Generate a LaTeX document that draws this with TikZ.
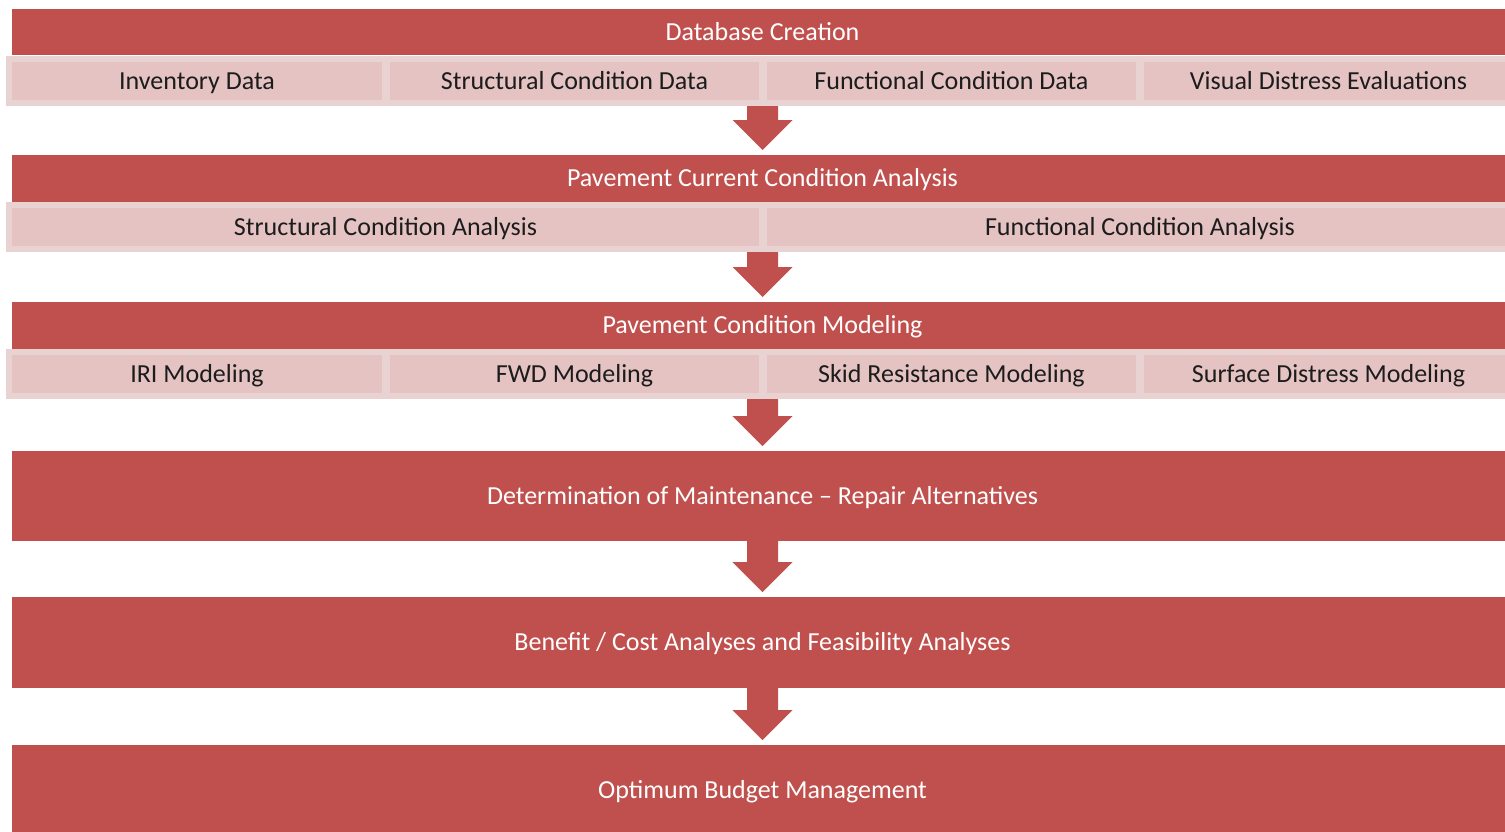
\documentclass[tikz,border=0pt]{standalone}
\usepackage{fontspec}
\setmainfont{Carlito}
\usetikzlibrary{calc}
\definecolor{barred}{HTML}{C0504D}
\definecolor{bandpink}{HTML}{E9D3D2}
\definecolor{cellpink}{HTML}{E4C3C2}
\definecolor{celltext}{HTML}{1C1C1C}
% downward block arrow from the bottom of #1 to just above the top of #2
\newcommand\flowdown[2]{%
  \fill[flow] let \p1=(#1.south -| axis), \p2=(#2.north -| axis) in
    (\x1-15.5pt,\y1) -- (\x1+15.5pt,\y1) -- (\x1+15.5pt,\y2+35pt)
    -- (\x1+30pt,\y2+35pt) -- (\x1,\y2+5pt) -- (\x1-30pt,\y2+35pt)
    -- (\x1-15.5pt,\y2+35pt) -- cycle;}
\begin{document}
\begin{tikzpicture}[x=1pt,y=-1pt,
  lbl/.style={font=\fontsize{26}{30}\selectfont, text height=16.4pt, text depth=0pt},
  bar/.style={lbl, fill=barred, text=white, inner sep=0pt, outer sep=0pt,
    anchor=north west, minimum width=1501pt},
  band/.style={fill=bandpink, inner sep=0pt, outer sep=0pt, anchor=north west,
    minimum width=1507pt, minimum height=50pt},
  cell/.style={lbl, fill=cellpink, text=celltext, inner sep=0pt, outer sep=0pt,
    anchor=north west, minimum height=38pt},
  flow/.style={fill=barred}]
\useasboundingbox (0,0) rectangle (1505,831);
\clip (0,0) rectangle (1505,831);
\fill[white] (0,0) rectangle (1505,831);
\coordinate (axis) at (762.5,0);

% Database creation
\node[bar, minimum height=46pt] (db) at (12,9) {Database Creation};
\node[band] (band1) at (6,56) {};
\node[cell, minimum width=370pt] (inv) at (12,62) {Inventory Data};
\node[cell, minimum width=369pt] (scd) at (390,62) {Structural Condition Data};
\node[cell, minimum width=369pt] (fcd) at (767,62) {Functional Condition Data};
\node[cell, minimum width=369pt] (vde) at (1144,62) {Visual Distress Evaluations};

% Current condition analysis
\node[bar, minimum height=47pt] (pcca) at (12,155) {Pavement Current Condition Analysis};
\node[band] (band2) at (6,202) {};
\node[cell, minimum width=747pt] (sca) at (12,208) {Structural Condition Analysis};
\node[cell, minimum width=746pt] (fca) at (767,208) {Functional Condition Analysis};

% Condition modeling
\node[bar, minimum height=47pt] (pcm) at (12,302) {Pavement Condition Modeling};
\node[band] (band3) at (6,349) {};
\node[cell, minimum width=370pt] (iri) at (12,355) {IRI Modeling};
\node[cell, minimum width=369pt] (fwd) at (390,355) {FWD Modeling};
\node[cell, minimum width=369pt] (skid) at (767,355) {Skid Resistance Modeling};
\node[cell, minimum width=369pt] (sdm) at (1144,355) {Surface Distress Modeling};

% Lower stages
\node[bar, minimum height=90pt] (dmr) at (12,451) {Determination of Maintenance -- Repair Alternatives};
\node[bar, minimum height=91pt] (bca) at (12,597) {Benefit / Cost Analyses and Feasibility Analyses};
\node[bar, minimum height=90pt] (obm) at (12,745) {Optimum Budget Management};

% Flow arrows
\flowdown{band1}{pcca}
\flowdown{band2}{pcm}
\flowdown{band3}{dmr}
\flowdown{dmr}{bca}
\flowdown{bca}{obm}
\end{tikzpicture}
\end{document}
